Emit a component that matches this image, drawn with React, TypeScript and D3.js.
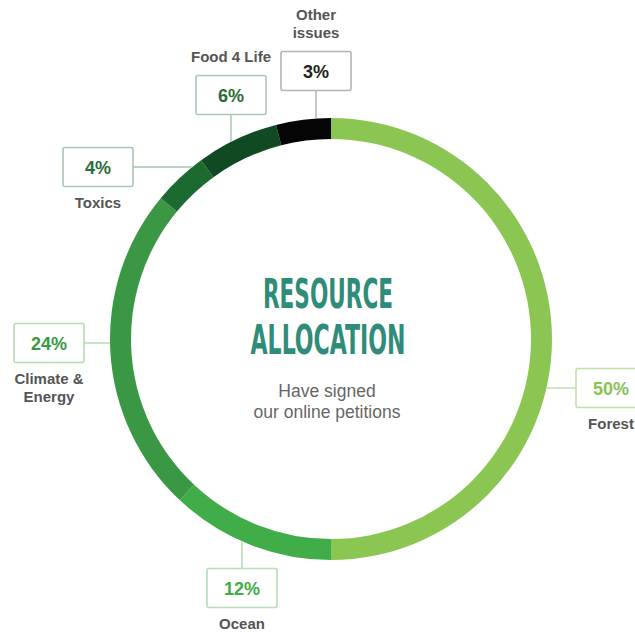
import React from 'react';
import * as d3 from 'd3';

// data
const categories = ['Forest', 'Ocean', 'Climate & Energy', 'Toxics', 'Food 4 Life', 'Other issues'];
const shares = [50, 12, 24, 4, 6, 3];
const labelLines = [['Forest'], ['Ocean'], ['Climate &', 'Energy'], ['Toxics'], ['Food 4 Life'], ['Other', 'issues']];
const segmentColors = ['#8bc653', '#40ad48', '#3a9844', '#1d6a30', '#0f4a23', '#050505'];
const textColors = ['#86c456', '#3fac48', '#3a9a45', '#2b6e3b', '#2c6a3a', '#222222'];
const boxColors = ['#bfe3a4', '#b4deb6', '#b3dab5', '#a9c6ae', '#aec6b3', '#b5b5b5'];

const W = 635;
const H = 632;
const cx = 331;
const cy = 339;
const outerR = 221;
const innerR = 200;
const boxW = 70;
const boxH = 39;

// callout layout: box centre + where the leader leaves the box
type Callout = { bx: number; by: number; side: 'left' | 'top' | 'bottom' | 'right'; label: 'above' | 'below' };
const callouts: Callout[] = [
  { bx: 611, by: 388, side: 'left', label: 'below' },
  { bx: 242, by: 588, side: 'top', label: 'below' },
  { bx: 49, by: 343, side: 'right', label: 'below' },
  { bx: 98, by: 167, side: 'right', label: 'below' },
  { bx: 231, by: 95, side: 'bottom', label: 'above' },
  { bx: 316, by: 71, side: 'bottom', label: 'above' },
];

const App = () => {
  // shares are percentages of 100 (they sum to 99); the last slice closes the ring like the original
  const total = d3.sum(shares);
  const pie = d3.pie<number>().sort(null).value(d => d).endAngle((2 * Math.PI * total) / 100);
  const arcs = pie(shares);
  arcs[arcs.length - 1].endAngle = 2 * Math.PI;
  const arc = d3.arc<d3.PieArcDatum<number>>().innerRadius(innerR).outerRadius(outerR);

  // point where a horizontal/vertical leader meets the ring's outer edge
  const leader = (c: Callout) => {
    if (c.side === 'left' || c.side === 'right') {
      const dy = c.by - cy;
      const dx = Math.sqrt(outerR * outerR - dy * dy);
      const ringX = c.side === 'left' ? cx + dx : cx - dx;
      const boxX = c.side === 'left' ? c.bx - boxW / 2 : c.bx + boxW / 2;
      return { x1: ringX, y1: c.by, x2: boxX, y2: c.by };
    }
    const dx = c.bx - cx;
    const dy = Math.sqrt(outerR * outerR - dx * dx);
    const ringY = c.side === 'top' ? cy + dy : cy - dy;
    const boxY = c.side === 'top' ? c.by - boxH / 2 : c.by + boxH / 2;
    return { x1: c.bx, y1: ringY, x2: c.bx, y2: boxY };
  };

  return (
    <svg width={W} height={H} style={{ position: 'absolute', left: 0, top: 0, background: '#fff' }}>
      <g transform={`translate(${cx},${cy})`}>
        {arcs.map((a, i) => (
          <path key={categories[i]} d={arc(a) || ''} fill={segmentColors[i]} />
        ))}
      </g>

      {callouts.map((c, i) => {
        const l = leader(c);
        const lines = labelLines[i];
        const labelY = c.label === 'below'
          ? c.by + boxH / 2 + 21
          : c.by - boxH / 2 - 14 - (lines.length - 1) * 18;
        return (
          <g key={categories[i]}>
            <line x1={l.x1} y1={l.y1} x2={l.x2} y2={l.y2} stroke={boxColors[i]} strokeWidth={1.5} />
            <rect
              x={c.bx - boxW / 2}
              y={c.by - boxH / 2}
              width={boxW}
              height={boxH}
              rx={2}
              fill="#fff"
              stroke={boxColors[i]}
              strokeWidth={1.6}
            />
            <text
              x={c.bx}
              y={c.by + 7}
              textAnchor="middle"
              fontFamily="'Liberation Sans', Arial, sans-serif"
              fontWeight="bold"
              fontSize={18}
              fill={textColors[i]}
            >
              {shares[i]}%
            </text>
            {lines.map((t, j) => (
              <text
                key={t}
                x={c.bx}
                y={labelY + j * 18}
                textAnchor="middle"
                fontFamily="'Liberation Sans', Arial, sans-serif"
                fontWeight="bold"
                fontSize={15}
                fill="#555"
              >
                {t}
              </text>
            ))}
          </g>
        );
      })}

      <g fill="#2e8c78" fontFamily="'Liberation Sans Narrow', 'DejaVu Sans Condensed', sans-serif" fontWeight="bold" fontSize={40}>
        <text x={328} y={308} textAnchor="middle" textLength={130} lengthAdjust="spacingAndGlyphs">RESOURCE</text>
        <text x={328} y={354} textAnchor="middle" textLength={155} lengthAdjust="spacingAndGlyphs">ALLOCATION</text>
      </g>
      <g fill="#666" fontFamily="'Liberation Sans', Arial, sans-serif" fontSize={17.5} textAnchor="middle">
        <text x={327} y={397}>Have signed</text>
        <text x={327} y={418}>our online petitions</text>
      </g>
    </svg>
  );
};

export default App;
